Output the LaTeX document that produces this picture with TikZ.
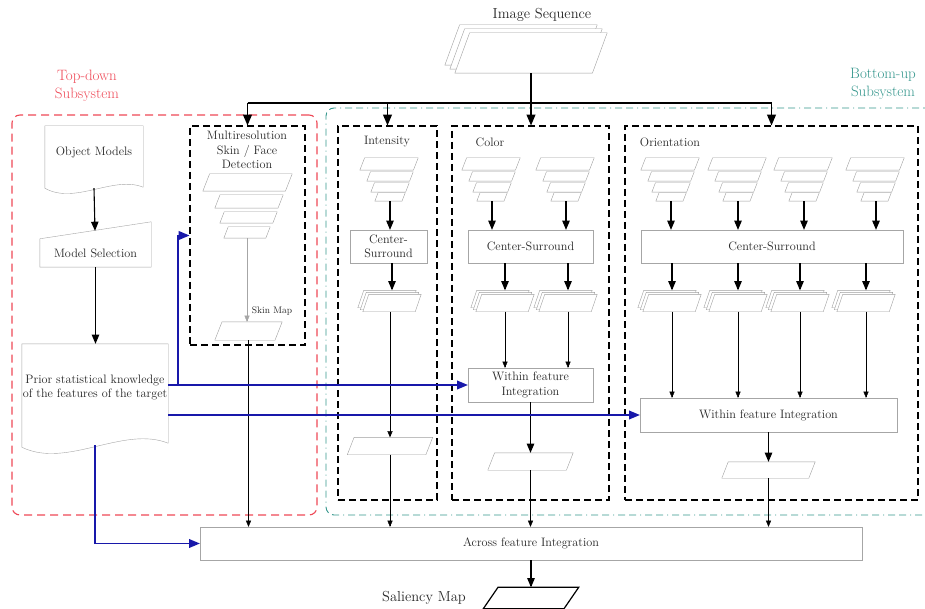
\documentclass[tikz,border=0pt]{standalone}
\usepackage{tikz}
\usetikzlibrary{shapes, arrows}
\usetikzlibrary{positioning, calc}

\definecolor{tdred}{RGB}{238,72,86}
\definecolor{buteal}{RGB}{52,150,140}
\definecolor{fbblue}{RGB}{24,24,170}

\tikzstyle{blk} = [rectangle, draw = gray!70, fill = white, text centered,
  align = center, inner sep = 1]
\tikzstyle{grp} = [rectangle, draw = black, line width = 1.1pt,
  dash pattern = on 7pt off 4pt]
\tikzstyle{outline} = [draw = gray!70, fill = white]
\tikzstyle{link} = [->, line width = 1.1pt]
\tikzstyle{feed} = [->, thin]
\tikzstyle{fb} = [->, draw = fbblue, line width = 1.5pt]

% one slanted sheet: [options] name, x, y, width, height, slant
\newcommand{\sheet}[7][]{
  \node [minimum width = #5, minimum height = #6, inner sep = 0] (#2) at (#3, #4) {};
  \draw [draw = gray!75, fill = white, #1] (#2.south west) -- ([xshift = #7*#6]#2.north west)
    -- (#2.north east) -- ([xshift = -#7*#6]#2.south east) -- cycle;
}
% pyramid of four sheets: name, x, top y
\newcommand{\pyramid}[3]{
  \sheet{#1-a}{#2}{#3+6}{58}{12}{0.4}
  \sheet{#1-b}{#2+1}{#3+18.5}{46}{9}{0.4}
  \sheet{#1-c}{#2+1}{#3+29.5}{38}{9}{0.4}
  \sheet{#1-d}{#2+1}{#3+39}{30}{8}{0.4}
}
% stack of three sheets: name, x, y
\newcommand{\sheetstack}[3]{
  \sheet{#1-back}{#2-5}{#3-4}{58}{17}{0.35}
  \sheet{#1-mid}{#2-2.5}{#3-2}{58}{17}{0.35}
  \sheet{#1}{#2}{#3}{58}{17}{0.35}
}

\begin{document}
\begin{tikzpicture}[x = 1pt, y = -1pt, >=triangle 45,
    font = \fontsize{12.2}{14.5}\selectfont, text = black!85]
      \useasboundingbox (0, 0) rectangle (925, 609);

      % subsystems
      \node [draw = tdred, line width = 1.1pt, dash pattern = on 8pt off 5pt,
        rounded corners = 8, minimum width = 305, minimum height = 400]
        (td-sys) at (164.5, 315) {};
      \node [draw = buteal, line width = 0.9pt,
        dash pattern = on 7pt off 4pt on 7pt off 4pt on 1pt off 4pt,
        rounded corners = 8, minimum width = 612, minimum height = 407]
        (bu-sys) at (632, 311.5) {};
      \node [text = tdred, align = center, font = \fontsize{15}{18}\selectfont]
        (td-label) at (87, 86) {Top-down\\Subsystem};
      \node [text = buteal, align = center, font = \fontsize{15}{18}\selectfont]
        (bu-label) at (883, 84) {Bottom-up\\Subsystem};

      % image sequence
      \sheet{seq-back}{521}{45}{152}{40}{0.37}
      \sheet{seq-mid}{526}{49}{152}{40}{0.37}
      \sheet{seq}{531}{53}{152}{40}{0.37}
      \node [font = \fontsize{14.5}{17}\selectfont] (seq-label) at (542, 15)
        {Image Sequence};

      % groups
      \node [grp, minimum width = 115, minimum height = 219] (skin-grp) at (247.5, 235.5) {};
      \node [grp, minimum width = 99, minimum height = 374] (int-grp) at (387.5, 313) {};
      \node [grp, minimum width = 157, minimum height = 374] (col-grp) at (530.5, 313) {};
      \node [grp, minimum width = 293, minimum height = 374] (ori-grp) at (771.5, 313) {};
      \node [align = center] (skin-title) at (247, 150) {Multiresolution\\Skin / Face\\Detection};
      \node (int-title) at (387, 142) {Intensity};
      \node (col-title) at (490, 142) {Color};
      \node (ori-title) at (670, 142) {Orientation};

      % top-down column
      \node [minimum width = 98, minimum height = 52] (objmod) at (94, 152) {};
      \draw [outline] (objmod.north west) -- (objmod.north east)
        -- ($(objmod.south east)+(0, 9)$) .. controls +(-30, -12) and +(30, 17)
        .. ($(objmod.south west)+(0, 10)$) -- cycle;
      \node at (objmod) {Object Models};
      \node [minimum width = 111, minimum height = 28] (modsel) at (95.5, 253) {};
      \draw [outline] (modsel.south west) -- (modsel.north west)
        -- ($(modsel.north east)+(0, -17)$) -- (modsel.south east) -- cycle;
      \node at (modsel) {Model Selection};
      \node [minimum width = 146, minimum height = 87] (prior) at (95, 387.5) {};
      \draw [outline] (prior.north west) -- (prior.north east)
        -- ($(prior.south east)+(0, 12)$) .. controls +(-45, -18) and +(45, 22)
        .. ($(prior.south west)+(0, 16)$) -- cycle;
      \node [align = center] at (prior)
        {Prior statistical knowledge\\of the features of the target};

      % skin / face detection
      \sheet{skin-a}{247.5}{182.5}{89}{17}{0.4}
      \sheet{skin-b}{249}{201.5}{68}{13}{0.4}
      \sheet{skin-c}{248.5}{217.5}{57}{11}{0.4}
      \sheet{skin-d}{247}{232.5}{46}{11}{0.4}
      \sheet{skinmap}{248.5}{331}{67}{18}{0.4}
      \node [font = \fontsize{9.5}{11}\selectfont] (skinmap-label) at (272, 311) {Skin Map};

      % intensity
      \pyramid{int-p}{389}{158}
      \node [blk, minimum width = 77, minimum height = 33] (int-cs) at (388.5, 246.5)
        {Center-\\Surround};
      \sheetstack{int-st}{392}{303}
      \sheet{int-map}{390}{446}{85}{17}{0.4}

      % color
      \pyramid{col-p1}{491}{158}
      \pyramid{col-p2}{565}{158}
      \node [blk, minimum width = 125, minimum height = 33] (col-cs) at (530.5, 246.5)
        {Center-Surround};
      \sheetstack{col-st1}{505}{303}
      \sheetstack{col-st2}{568}{303}
      \node [blk, minimum width = 125, minimum height = 34] (col-wfi) at (530.5, 385)
        {Within feature\\Integration};
      \sheet{col-map}{530.5}{461.5}{85}{17}{0.4}

      % orientation
      \pyramid{ori-p1}{670}{158}
      \pyramid{ori-p2}{737}{158}
      \pyramid{ori-p3}{803}{158}
      \pyramid{ori-p4}{875}{158}
      \node [blk, minimum width = 262, minimum height = 33] (ori-cs) at (772, 246.5)
        {Center-Surround};
      \sheetstack{ori-st1}{672}{303}
      \sheetstack{ori-st2}{738}{303}
      \sheetstack{ori-st3}{800}{303}
      \sheetstack{ori-st4}{866}{303}
      \node [blk, minimum width = 257, minimum height = 34] (ori-wfi) at (768.5, 415)
        {Within feature Integration};
      \sheet{ori-map}{768.5}{470}{93}{16}{0.4}

      % across and saliency
      \node [blk, minimum width = 662, minimum height = 33] (across) at (531, 543.5)
        {Across feature Integration};
      \sheet[draw = black, line width = 1.2pt]{sal}{531}{598}{95}{21}{0.7}
      \node [left = 14pt of sal, font = \fontsize{14.5}{17}\selectfont] (sal-label)
        {Saliency Map};

      % image sequence to the channels
      \coordinate (split) at (531, 103);
      \coordinate (split-skin) at (247.5, 103);
      \coordinate (split-ori) at (771.5, 103);
      \draw [line width = 1.5pt] (seq.south) -- (split);
      \draw [line width = 1.5pt] (split-skin) -- (split-ori);
      \draw [link, line width = 1.5pt] (split-skin) -- (skin-grp.north);
      \draw [link, line width = 1.5pt] (split-skin -| int-grp) -- (int-grp.north);
      \draw [link, line width = 1.5pt] (split) -- (split |- col-grp.north);
      \draw [link, line width = 1.5pt] (split-ori) -- (ori-grp.north);

      % top-down
      \draw [link] ($(objmod.south)+(0, 10)$) -- ($(modsel.north)+(-0.5, -8)$);
      \draw [link] (modsel.south) -- (modsel.south |- prior.north);
      \draw [feed, draw = gray!70] (skin-d.south) -- (skin-d.south |- skinmap.north);
      \draw [feed] (skinmap.south) -- (skinmap.south |- across.north);

      % intensity
      \draw [link] (int-p-d.south) -- (int-p-d.south |- int-cs.north);
      \draw [link] (int-st |- int-cs.south) -- (int-st |- int-st-back.north);
      \draw [feed] (int-map |- int-st.south) -- (int-map.north);
      \draw [feed] (int-map.south) -- (int-map.south |- across.north);

      % color
      \draw [link] (col-p1-d.south) -- (col-p1-d.south |- col-cs.north);
      \draw [link] (col-p2-d.south) -- (col-p2-d.south |- col-cs.north);
      \draw [link] (col-st1 |- col-cs.south) -- (col-st1 |- col-st1-back.north);
      \draw [link] (col-st2 |- col-cs.south) -- (col-st2 |- col-st2-back.north);
      \draw [feed] (col-st1.south) -- (col-st1.south |- col-wfi.north);
      \draw [feed] (col-st2.south) -- (col-st2.south |- col-wfi.north);
      \draw [link] (col-wfi.south) -- (col-map.north);
      \draw [feed] (col-map.south) -- (col-map.south |- across.north);

      % orientation
      \draw [link] (ori-p1-d.south) -- (ori-p1-d.south |- ori-cs.north);
      \draw [link] (ori-p2-d.south) -- (ori-p2-d.south |- ori-cs.north);
      \draw [link] (ori-p3-d.south) -- (ori-p3-d.south |- ori-cs.north);
      \draw [link] (ori-p4-d.south) -- (ori-p4-d.south |- ori-cs.north);
      \draw [link] (ori-st1 |- ori-cs.south) -- (ori-st1 |- ori-st1-back.north);
      \draw [link] (ori-st2 |- ori-cs.south) -- (ori-st2 |- ori-st2-back.north);
      \draw [link] (ori-st3 |- ori-cs.south) -- (ori-st3 |- ori-st3-back.north);
      \draw [link] (ori-st4 |- ori-cs.south) -- (ori-st4 |- ori-st4-back.north);
      \draw [feed] (ori-st1.south) -- (ori-st1.south |- ori-wfi.north);
      \draw [feed] (ori-st2.south) -- (ori-st2.south |- ori-wfi.north);
      \draw [feed] (ori-st3.south) -- (ori-st3.south |- ori-wfi.north);
      \draw [feed] (ori-st4.south) -- (ori-st4.south |- ori-wfi.north);
      \draw [link] (ori-wfi.south) -- (ori-wfi.south |- ori-map.north);
      \draw [feed] (ori-wfi.south |- ori-map.south) -- (ori-wfi.south |- across.north);

      % prior knowledge feedback
      \draw [fb] (prior.east |- col-wfi) -- (col-wfi.west);
      \draw [fb] ($(prior.east |- col-wfi)+(10, 0)$) |- (skin-grp.west);
      \draw [fb] (prior.east |- ori-wfi) -- (ori-wfi.west);
      \draw [fb] ($(prior.south)+(0, 14)$) |- (across.west);
      \draw [link] (across.south) -- (sal.north);
    \end{tikzpicture}
\end{document}
